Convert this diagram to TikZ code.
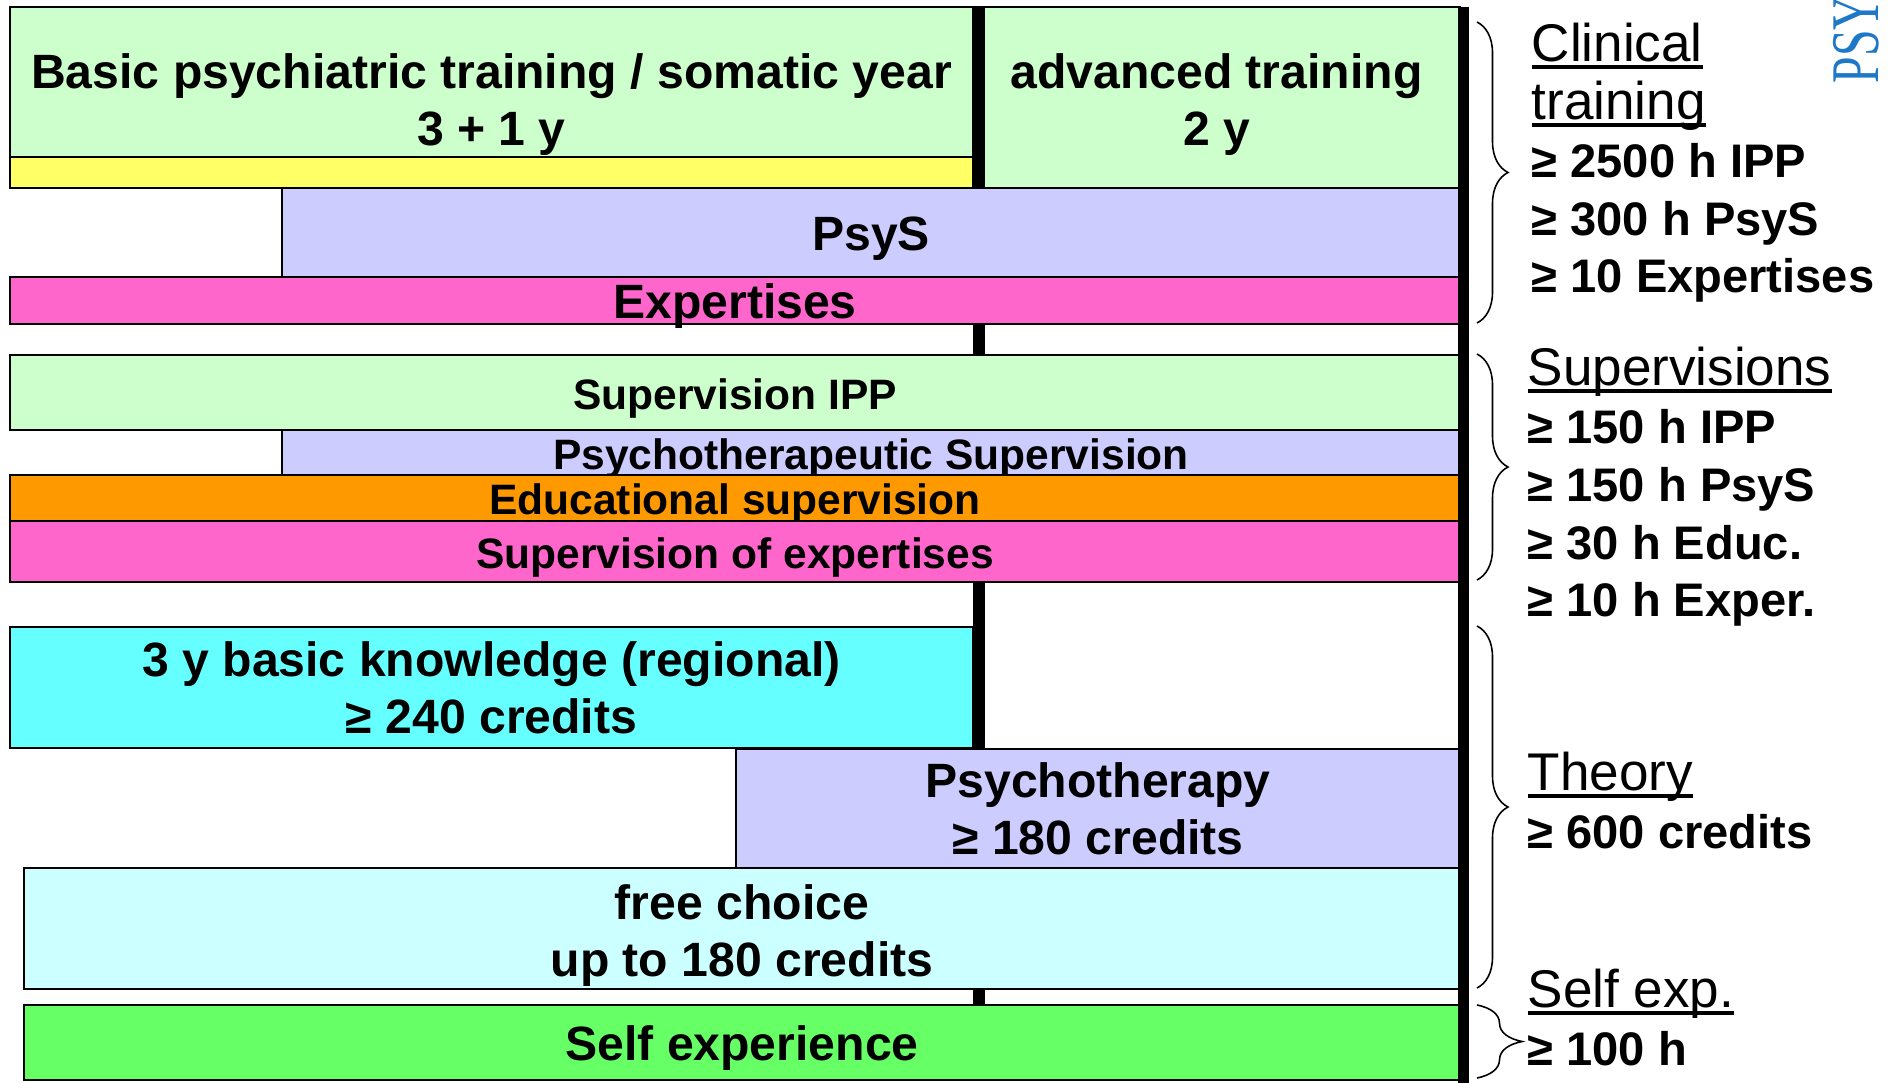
\documentclass[tikz,border=0pt]{standalone}
\usepackage{fontspec}
\setmainfont{Liberation Sans}
\newfontfamily\logofont{Liberation Serif}[FakeStretch=0.7]
\usepackage{tikz}
\usetikzlibrary{positioning}
\usetikzlibrary{decorations.pathreplacing}
\definecolor{ippgreen}{HTML}{CCFFCC}
\definecolor{somyellow}{HTML}{FFFF66}
\definecolor{psyslilac}{HTML}{CCCCFF}
\definecolor{expink}{HTML}{FF66CC}
\definecolor{educorange}{HTML}{FF9900}
\definecolor{theocyan}{HTML}{66FFFF}
\definecolor{freecyan}{HTML}{CCFFFF}
\definecolor{selfgreen}{HTML}{66FF66}
\definecolor{logoblue}{HTML}{1E78C8}
\newsavebox\ulbox
\newcommand\ulhead[1]{\sbox\ulbox{#1}\rlap{\rule[-0.15em]{\wd\ulbox}{0.075em}}\usebox\ulbox}
% push a label a little down in its bar
\newcommand\lowr{\rule{0pt}{1.0em}}
\newcommand\lowtxt[1]{\raisebox{-0.06cm}[\height][\depth]{#1}}
\tikzstyle{bar}=[rectangle,draw=black,line width=0.6pt,inner sep=0pt,align=center,font=\bfseries\fontsize{13.7}{16.2}\selectfont]
\tikzstyle{subar}=[bar,font=\bfseries\fontsize{12.1}{14}\selectfont]
\tikzstyle{divider}=[draw,line width=0.12cm]
\tikzstyle{rightbar}=[draw,line width=0.11cm]
\tikzstyle{brace}=[draw,line width=0.45pt,decorate,decoration={brace,amplitude=0.31cm}]
\tikzstyle{sidetext}=[anchor=base west,inner sep=0pt,align=left,font=\bfseries\fontsize{13.4}{16.5}\selectfont]

\begin{document}
\begin{tikzpicture}
    \useasboundingbox (0,0) rectangle (18.96,-10.83);

    % clinical training on top
    \node[bar, fill=ippgreen, minimum width=9.63cm, minimum height=1.81cm] (basic) at (4.915,-0.975)
        {\lowr Basic psychiatric training / somatic year\\3 + 1 y};
    \node[bar, fill=somyellow, minimum width=9.63cm, minimum height=0.31cm] (somatic) at (4.915,-1.725) {};
    \node[bar, fill=ippgreen, minimum width=4.87cm, minimum height=1.81cm] (advanced) at (12.165,-0.975)
        {\lowr advanced training\\2 y};

    % year divider, the bars below hide it
    \path[divider] (9.79,-0.07) -- (9.79,-10.05);

    % Then the bars
    \foreach \pos/\w/\h/\col/\name/\txt in {{(8.71,-2.325)/11.78/0.89/psyslilac/psys/{\lowtxt{PsyS}}},
        {(7.35,-3.005)/14.50/0.47/expink/expert/{\lowtxt{Expertises}}},
        {(4.915,-6.875)/9.63/1.21/theocyan/knowledge/{3 y basic knowledge (regional)\\≥ 240 credits}},
        {(10.98,-8.09)/7.24/1.20/psyslilac/psychother/{Psychotherapy\\≥ 180 credits}},
        {(7.42,-9.285)/14.36/1.21/freecyan/freechoice/{\lowr free choice\\up to 180 credits}},
        {(7.42,-10.425)/14.36/0.75/selfgreen/selfexp/{\lowtxt{Self experience}}}}
        \node[bar, fill=\col, minimum width=\w cm, minimum height=\h cm] (\name) at \pos {\txt};

    % supervisions
    \foreach \pos/\w/\h/\col/\name/\txt in {{(7.35,-3.925)/14.50/0.75/ippgreen/supipp/Supervision IPP},
        {(8.71,-4.525)/11.78/0.45/psyslilac/supsys/Psychotherapeutic Supervision},
        {(7.35,-4.98)/14.50/0.46/educorange/supeduc/Educational supervision},
        {(7.35,-5.515)/14.50/0.61/expink/supexp/Supervision of expertises}}
        \node[subar, fill=\col, minimum width=\w cm, minimum height=\h cm] (\name) at \pos {\lowtxt{\txt}};

    \path[rightbar] (14.63,-0.07) -- (14.63,-10.83);

    % braces and requirements
    \path[brace] (14.77,-0.22) -- (14.77,-3.23);
    \path[brace] (14.77,-3.54) -- (14.77,-5.80);
    \path[brace] (14.77,-6.26) -- (14.77,-9.88);
    \path[brace, decoration={brace,amplitude=0.45cm}] (14.77,-10.05) -- (14.77,-10.78);

    % last line sits on the anchor
    \node[sidetext] (clinical) at (15.31,-2.93)
        {{\mdseries\fontsize{15.1}{16.5}\selectfont\ulhead{Clinical}}\\
         {\mdseries\fontsize{15.1}{16.5}\selectfont\ulhead{training}}\\
         ≥ 2500 h IPP\\≥ 300 h PsyS\\≥ 10 Expertises};
    \node[sidetext] (supervisions) at (15.27,-6.17)
        {{\mdseries\fontsize{15.1}{16.5}\selectfont\ulhead{Supervisions}}\\
         ≥ 150 h IPP\\≥ 150 h PsyS\\≥ 30 h Educ.\\≥ 10 h Exper.};
    \node[sidetext] (theory) at (15.27,-8.48)
        {{\mdseries\fontsize{15.1}{16.5}\selectfont\ulhead{Theory}}\\≥ 600 credits};
    \node[sidetext] (selfreq) at (15.27,-10.65)
        {{\mdseries\fontsize{15.1}{16.5}\selectfont\ulhead{Self exp.}}\\≥ 100 h};

    % logo, cut at the border
    \begin{scope}
        \clip (0,0) rectangle (18.96,-10.83);
        \node[rotate=90, anchor=base west, inner sep=0pt, text=logoblue, font=\logofont\fontsize{19.4}{20}\selectfont] (logo) at (18.78,-0.84) {PSY};
    \end{scope}
\end{tikzpicture}
\end{document}
